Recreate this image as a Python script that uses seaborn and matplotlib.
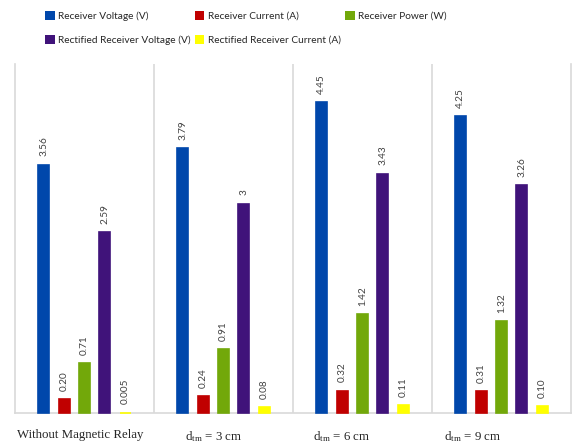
import matplotlib
matplotlib.use("Agg")
import matplotlib.pyplot as plt
import seaborn as sns
import pandas as pd

categories = ["Without Magnetic Relay", "d$_{\\mathrm{tm}}$ = 3 cm", "d$_{\\mathrm{tm}}$ = 6 cm", "d$_{\\mathrm{tm}}$ = 9 cm"]
series = ["Receiver Voltage (V)", "Receiver Current (A)", "Receiver Power (W)",
          "Rectified Receiver Voltage (V)", "Rectified Receiver Current (A)"]
receiver_voltage = [3.56, 3.79, 4.45, 4.25]
receiver_current = [0.20, 0.24, 0.32, 0.31]
receiver_power = [0.71, 0.91, 1.42, 1.32]
rect_voltage = [2.59, 3.0, 3.43, 3.26]
rect_current = [0.005, 0.08, 0.11, 0.10]
value_labels = [
    ["3.56", "3.79", "4.45", "4.25"],
    ["0.20", "0.24", "0.32", "0.31"],
    ["0.71", "0.91", "1.42", "1.32"],
    ["2.59", "3", "3.43", "3.26"],
    ["0.005", "0.08", "0.11", "0.10"],
]
colors = ["#0047AB", "#C00000", "#72A80A", "#40137A", "#FFFF00"]

sns.set_theme(style="white")
plt.rcParams["font.family"] = ["Lato", "DejaVu Sans"]
plt.rcParams["mathtext.fontset"] = "custom"
plt.rcParams["mathtext.rm"] = "Liberation Serif"
plt.rcParams["mathtext.it"] = "Liberation Serif:italic"

values = [receiver_voltage, receiver_current, receiver_power, rect_voltage, rect_current]
rows = []
for s, vals in zip(series, values):
    for c, v in zip(categories, vals):
        rows.append({"Category": c, "Series": s, "Value": v})
df = pd.DataFrame(rows)

fig = plt.figure(figsize=(5.73, 4.45), dpi=100)
ax = fig.add_axes([15 / 573, 32 / 445, 556 / 573, 349 / 445])
sns.barplot(data=df, x="Category", y="Value", hue="Series", hue_order=series,
            order=categories, palette=colors, width=0.73, gap=0.45, ax=ax,
            legend=True, saturation=1, linewidth=0)

for cont, col in zip(ax.containers, colors):
    for p in cont.patches:
        p.set_edgecolor(col)
        p.set_linewidth(1.2)
        p.set_zorder(5)
        p.set_clip_on(False)

ax.set_ylim(0, 5)
ax.set_xlim(-0.5, 3.5)
ax.set_yticks([])
ax.set_xlabel("")
ax.set_ylabel("")
ax.spines["top"].set_visible(False)
for sp in ["left", "right", "bottom"]:
    ax.spines[sp].set_color("#D9D9D9")
    ax.spines[sp].set_linewidth(1.2)
    ax.spines[sp].set_zorder(1)
for b in [0.5, 1.5, 2.5]:
    ax.axvline(b, color="#D9D9D9", lw=1.2, zorder=1)

for cont, labs in zip(ax.containers, value_labels):
    ax.bar_label(cont, labels=labs, rotation=90, padding=6, fontsize=7.2, color="#404040")

# x labels
ax.set_xticks(range(len(categories)))
ax.set_xticklabels([])
ax.tick_params(axis="x", length=0)
label_offsets = [-0.03, -0.07, -0.15, -0.21]
for i, (c, off) in enumerate(zip(categories, label_offsets)):
    ax.text(i + off, -0.047, c, transform=ax.get_xaxis_transform(), ha="center", va="top",
            fontsize=9.3, family="Liberation Serif")

handles, labels = ax.get_legend_handles_labels()
ax.get_legend().remove()
idx = [0, 3, 1, 4, 2]
fig.legend([handles[i] for i in idx], [labels[i] for i in idx], ncol=3,
           loc="upper left", bbox_to_anchor=(45 / 573, 1 - 11 / 445), frameon=False,
           fontsize=7.3, handlelength=0.95, handleheight=0.95, handletextpad=0.3,
           columnspacing=0.45, labelspacing=1.4, borderaxespad=0, borderpad=0)

fig.savefig("out.png", dpi=100)
